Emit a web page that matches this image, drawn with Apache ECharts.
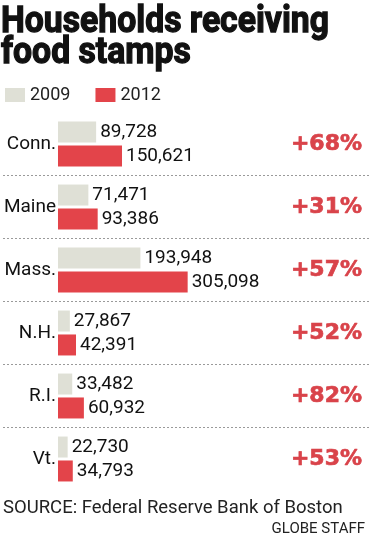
<!DOCTYPE html>
<html><head><meta charset="utf-8">
<script src="https://cdn.jsdelivr.net/npm/echarts@6/dist/echarts.min.js"></script>
<style>html,body{margin:0;padding:0;background:#fff}#c{width:371px;height:542px}</style>
</head><body><div id="c"></div>
<script>
const categories = ['Conn.', 'Maine', 'Mass.', 'N.H.', 'R.I.', 'Vt.'];
const values2009 = [89728, 71471, 193948, 27867, 33482, 22730];
const values2012 = [150621, 93386, 305098, 42391, 60932, 34793];
const changes = ['+68%', '+31%', '+57%', '+52%', '+82%', '+53%'];

const BODY = 'Roboto, "Open Sans", sans-serif';
const RED = '#e3444a';
const BEIGE = '#dfe0d6';
const fmt = p => p.value.toLocaleString('en-US');

const TITLE_FONT = 'bold 37px Roboto';
const mctx = document.createElement('canvas').getContext('2d');
mctx.font = TITLE_FONT;
const titleScale = 328 / mctx.measureText('Households receiving').width;

const chart = echarts.init(document.getElementById('c'), null, {renderer: 'canvas'});
chart.setOption({
  animation: false,
  backgroundColor: '#fff',
  graphic: [
    {type: 'text', x: 1, y: 23, scaleX: titleScale, originX: 0,
     style: {text: 'Households receiving', font: TITLE_FONT, fill: '#111', stroke: '#111', lineWidth: 1.3, verticalAlign: 'middle'}},
    {type: 'text', x: 1, y: 53.5, scaleX: titleScale, originX: 0,
     style: {text: 'food stamps', font: TITLE_FONT, fill: '#111', stroke: '#111', lineWidth: 1.3, verticalAlign: 'middle'}}
  ],
  title: [
    {text: 'SOURCE: Federal Reserve Bank of Boston', left: 3, top: 499, padding: 0,
     textStyle: {fontFamily: BODY, fontWeight: 'normal', fontSize: 18.5, color: '#222'}},
    {text: 'GLOBE STAFF', right: 6, top: 522, padding: 0,
     textStyle: {fontFamily: BODY, fontWeight: 'normal', fontSize: 15, color: '#222'}}
  ],
  legend: {
    left: 5, top: 86, padding: 0, itemWidth: 20, itemHeight: 14, itemGap: 25, icon: 'rect',
    textStyle: {fontFamily: BODY, fontSize: 18, color: '#222'},
    data: ['2009', '2012']
  },
  grid: {left: 3, right: 0, top: 112.5, bottom: 51.5, containLabel: false, outerBoundsMode: 'none'},
  xAxis: {type: 'value', min: -129400, max: 736500, show: false},
  yAxis: [
    {type: 'category', data: categories, inverse: true,
     axisLine: {show: false, onZero: false}, axisTick: {show: false},
     axisLabel: {margin: -53, align: 'right', fontFamily: BODY, fontSize: 19, color: '#111'},
     splitLine: {show: true, showMinLine: false, showMaxLine: false,
       lineStyle: {type: [2, 2], color: '#9a9a9a', width: 1}}},
    {type: 'category', data: changes, inverse: true, position: 'right',
     axisLine: {show: false, onZero: false}, axisTick: {show: false},
     axisLabel: {inside: true, margin: 9, fontFamily: '"DejaVu Sans", sans-serif', fontWeight: 'bold', fontSize: 22, color: '#d9434a',
       textBorderColor: '#d9434a', textBorderWidth: 0.7},
     splitLine: {show: false}}
  ],
  series: [
    {name: '2009', type: 'bar', data: values2009, barWidth: 21, barGap: '14%',
     itemStyle: {color: BEIGE},
     label: {show: true, position: 'right', distance: 4, formatter: fmt, fontFamily: BODY, fontSize: 19, color: '#111'}},
    {name: '2012', type: 'bar', data: values2012, barWidth: 21, barGap: '14%',
     itemStyle: {color: RED},
     label: {show: true, position: 'right', distance: 4, formatter: fmt, fontFamily: BODY, fontSize: 19, color: '#111'}}
  ]
});
</script></body></html>
